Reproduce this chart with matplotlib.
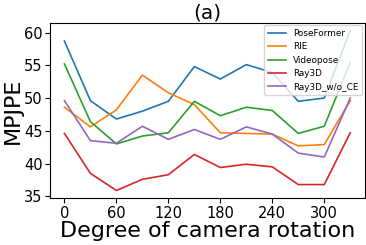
import matplotlib
matplotlib.use("Agg")
import matplotlib.pyplot as plt

degrees = [0, 30, 60, 90, 120, 150, 180, 210, 240, 270, 300, 330]
poseformer = [58.7, 49.6, 46.8, 48.0, 49.5, 54.8, 52.9, 55.1, 53.9, 49.5, 50.0, 60.3]
rie = [48.6, 45.6, 48.2, 53.5, 50.8, 49.0, 44.7, 44.6, 44.5, 42.7, 42.9, 49.6]
videopose = [55.2, 46.4, 43.0, 44.2, 44.7, 49.5, 47.3, 48.6, 48.1, 44.6, 45.7, 55.4]
ray3d = [44.6, 38.5, 35.9, 37.6, 38.3, 41.4, 39.4, 39.9, 39.5, 36.8, 36.8, 44.7]
ray3d_wo_ce = [49.6, 43.5, 43.1, 45.7, 43.7, 45.2, 43.7, 45.6, 44.5, 41.6, 41.0, 50.0]

series = [
    ("PoseFormer", poseformer),
    ("RIE", rie),
    ("Videopose", videopose),
    ("Ray3D", ray3d),
    ("Ray3D_w/o_CE", ray3d_wo_ce),
]

fig, ax = plt.subplots(figsize=(3.66, 2.45), dpi=100)
fig.subplots_adjust(left=0.137, right=0.996, top=0.908, bottom=0.19)

for label, values in series:
    ax.plot(degrees, values, label=label, linewidth=1.2)

ax.set_xticks([0, 60, 120, 180, 240, 300])
ax.set_yticks([35, 40, 45, 50, 55, 60])
ax.tick_params(labelsize=10.5, pad=2)
ax.set_xlabel("Degree of camera rotation", fontsize=16, labelpad=0)
ax.set_ylabel("MPJPE", fontsize=16, labelpad=1)
ax.set_title("(a)", fontsize=14.5, pad=2)
ax.legend(loc="upper right", fontsize=6.4, borderaxespad=0.3, handlelength=2.0)

fig.savefig("out.png", dpi=100)
